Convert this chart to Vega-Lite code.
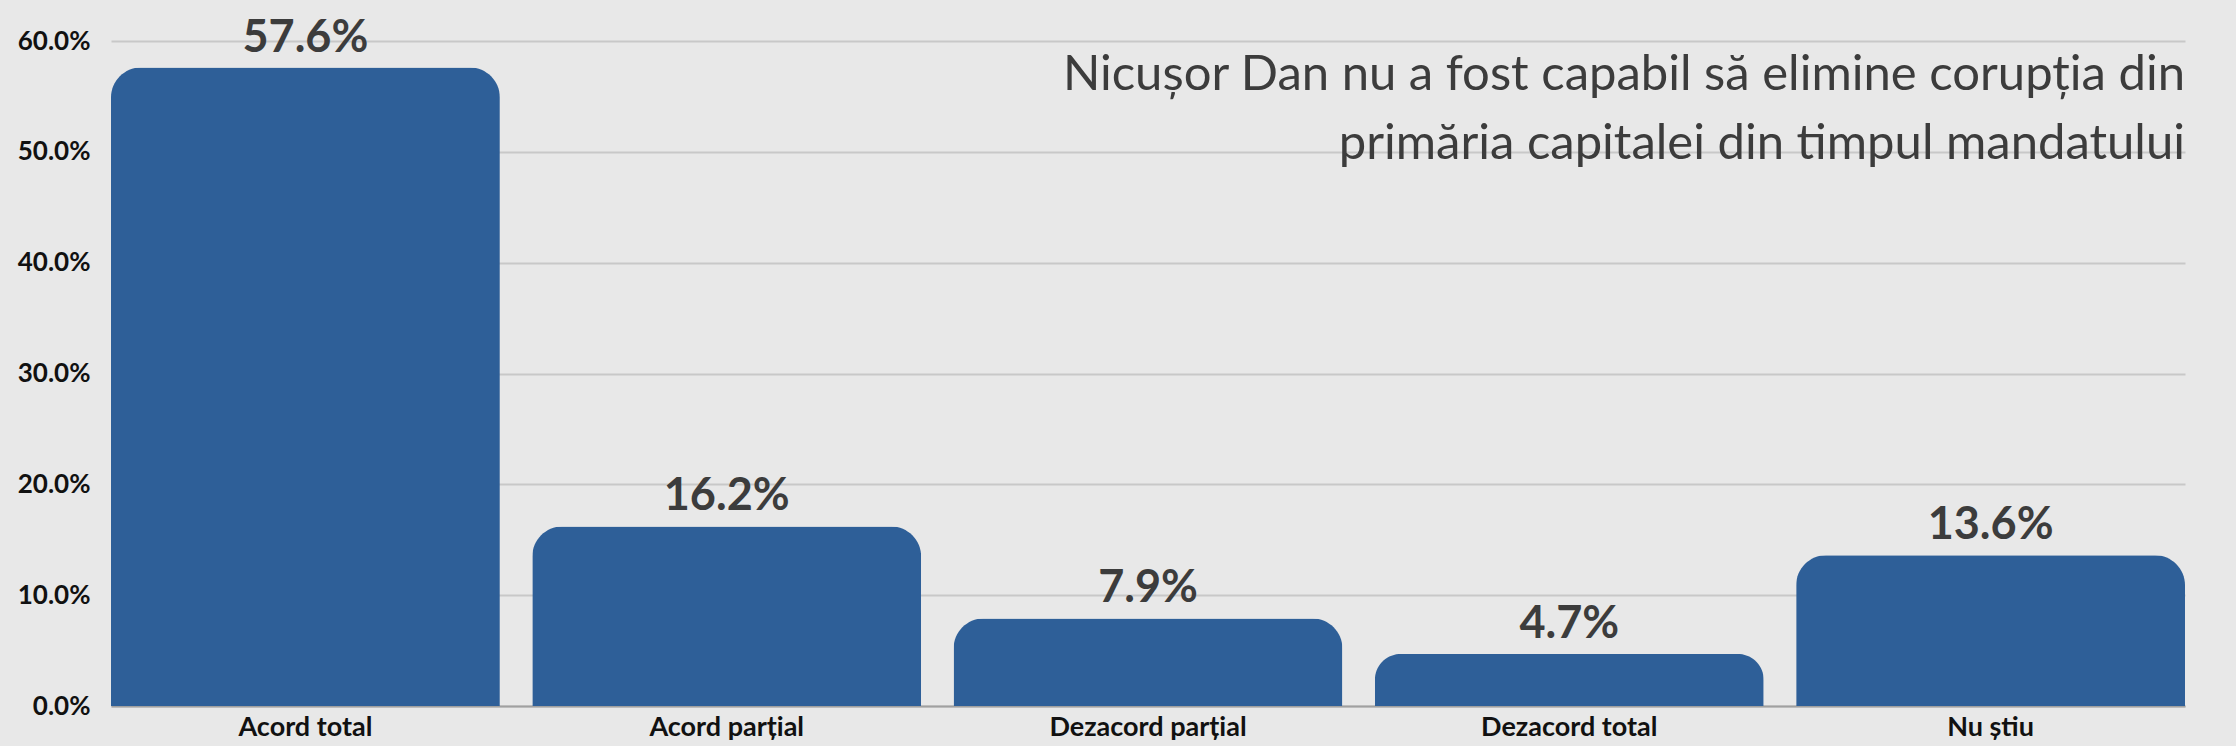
{
  "$schema": "https://vega.github.io/schema/vega-lite/v6.json",
  "width": 2074,
  "height": 665,
  "autosize": {"type": "none"},
  "padding": {"left": 111, "top": 41, "right": 51, "bottom": 40},
  "background": "#e8e8e8",
  "config": {"view": {"stroke": null}},
  "title": {
    "text": ["Nicușor Dan nu a fost capabil să elimine corupția din", "primăria capitalei din timpul mandatului\u00a0\u00a0"],
    "anchor": "end",
    "orient": "top",
    "frame": "group",
    "baseline": "top",
    "offset": 0,
    "dy": 153,
    "lineHeight": 69,
    "font": "Lato",
    "fontSize": 49,
    "fontWeight": 400,
    "color": "#3c3c3c"
  },
  "data": {
    "values": [
      {"cat": "Acord total", "pct": 0.576},
      {"cat": "Acord parțial", "pct": 0.162},
      {"cat": "Dezacord parțial", "pct": 0.079},
      {"cat": "Dezacord total", "pct": 0.047},
      {"cat": "Nu știu", "pct": 0.136}
    ]
  },
  "encoding": {
    "x": {
      "field": "cat",
      "type": "nominal",
      "sort": null,
      "scale": {"paddingInner": 0.077, "paddingOuter": 0},
      "axis": {
        "title": null,
        "labelAngle": 0,
        "labelFont": "Lato",
        "labelFontSize": 27,
        "labelFontWeight": "bold",
        "labelColor": "#111111",
        "labelPadding": 8,
        "labelLimit": 0,
        "ticks": false,
        "domainColor": "#a0a0a0",
        "domainWidth": 2
      }
    },
    "y": {
      "field": "pct",
      "type": "quantitative",
      "scale": {"domain": [0, 0.6]},
      "axis": {
        "title": null,
        "format": ".1%",
        "values": [0, 0.1, 0.2, 0.3, 0.4, 0.5, 0.6],
        "labelFont": "Lato",
        "labelFontSize": 26,
        "labelFontWeight": "bold",
        "labelColor": "#111111",
        "labelPadding": 21,
        "ticks": false,
        "domain": false,
        "gridColor": "#c8c8c8",
        "gridWidth": 2
      }
    }
  },
  "layer": [
    {
      "mark": {"type": "bar", "color": "#2e5f98", "cornerRadiusTopLeft": 30, "cornerRadiusTopRight": 30}
    },
    {
      "mark": {"type": "text", "baseline": "alphabetic", "dy": -16, "font": "Lato", "fontSize": 45, "fontWeight": "bold", "color": "#3c3c3c"},
      "encoding": {"text": {"field": "pct", "type": "quantitative", "format": ".1%"}}
    }
  ]
}
